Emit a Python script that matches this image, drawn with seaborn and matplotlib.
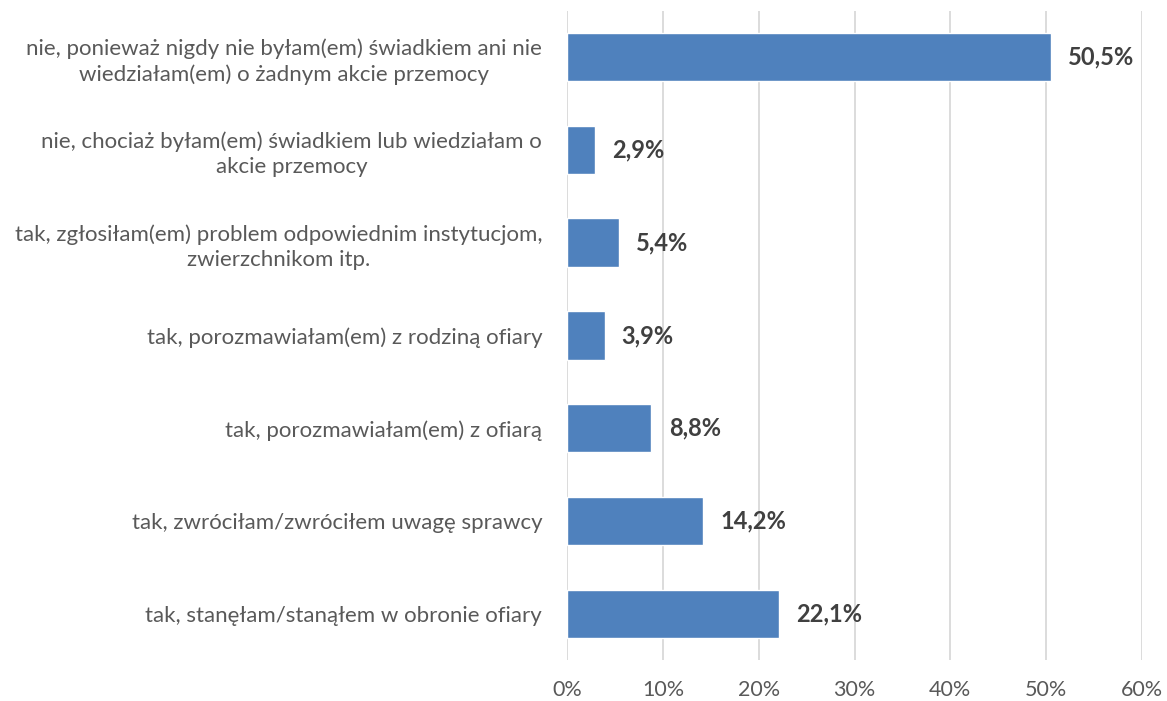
import matplotlib.pyplot as plt
import seaborn as sns
import pandas as pd

categories = [
    "nie, ponieważ nigdy nie byłam(em) świadkiem ani nie\nwiedziałam(em) o żadnym akcie przemocy",
    "nie, chociaż byłam(em) świadkiem lub wiedziałam o\nakcie przemocy",
    "tak, zgłosiłam(em) problem odpowiednim instytucjom,\nzwierzchnikom itp.",
    "tak, porozmawiałam(em) z rodziną ofiary",
    "tak, porozmawiałam(em) z ofiarą",
    "tak, zwróciłam/zwróciłem uwagę sprawcy",
    "tak, stanęłam/stanąłem w obronie ofiary",
]
values = [50.5, 2.9, 5.4, 3.9, 8.8, 14.2, 22.1]
x_ticks = [0, 10, 20, 30, 40, 50, 60]

sns.set_style("white")
plt.rcParams['font.family'] = ['Lato', 'DejaVu Sans']

df = pd.DataFrame({"cat": categories, "val": values})

fig = plt.figure(figsize=(11.67, 7.01), dpi=100)
ax = fig.add_axes([0.486, 0.058, 0.4925, 0.927])

sns.barplot(data=df, x="val", y="cat", orient="h", color="#4F81BD",
            saturation=1, width=0.52, ax=ax, zorder=3)

ax.set_xlim(0, 60)
ax.set_xticks(x_ticks)
ax.set_xticklabels([f"{t}%" for t in x_ticks])
ax.grid(axis="x", color="#D9D9D9", linewidth=1.3, zorder=0)
ax.set_axisbelow(True)
for s in ax.spines.values():
    s.set_visible(False)
ax.set_xlabel("")
ax.set_ylabel("")
ax.tick_params(axis="x", length=0, pad=14, labelsize=15.5, labelcolor="#595959")
ax.tick_params(axis="y", length=0, pad=18, labelsize=16, labelcolor="#595959")
for lbl in ax.get_yticklabels():
    lbl.set_multialignment("center")
    lbl.set_linespacing(1.3)

for i, v in enumerate(values):
    ax.text(v + 1.8, i, f"{v:.1f}%".replace(".", ","), va="center", ha="left",
            fontsize=17, fontweight="bold", color="#404040")

fig.savefig("out.png", dpi=100)
